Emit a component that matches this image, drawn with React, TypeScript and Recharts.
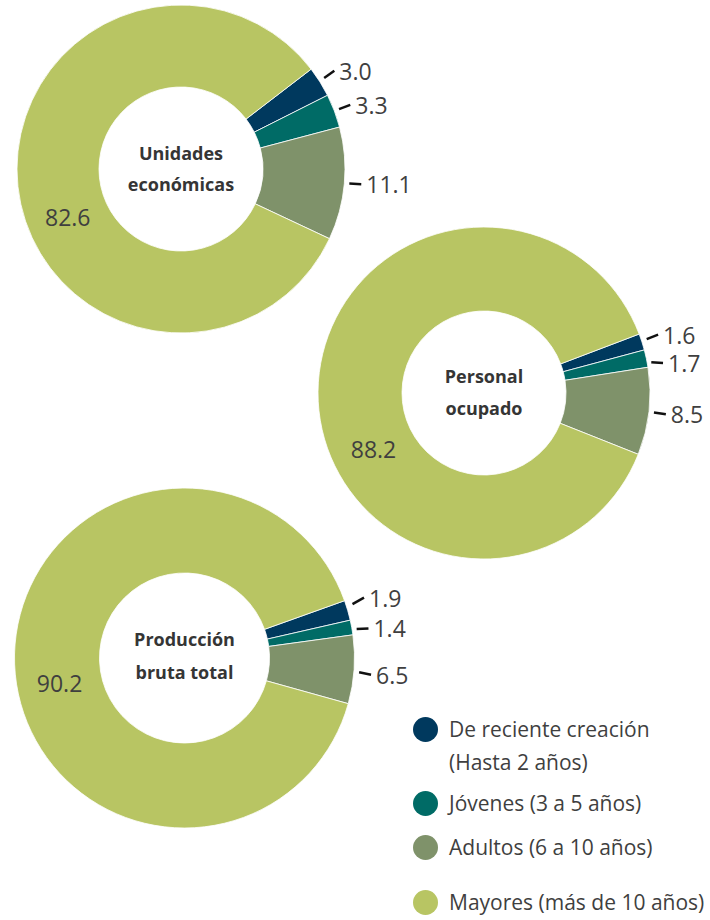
import React from 'react'
import { PieChart, Pie, Cell } from 'recharts'

const categories = ['De reciente creación', 'Jóvenes', 'Adultos', 'Mayores']
const legendLabels = [
  ['De reciente creación', '(Hasta 2 años)'],
  ['Jóvenes (3 a 5 años)'],
  ['Adultos (6 a 10 años)'],
  ['Mayores (más de 10 años)'],
]
const colors = ['#00395e', '#006b66', '#7f926a', '#b8c563']

const unidades = [3.0, 3.3, 11.1, 82.6]
const personal = [1.6, 1.7, 8.5, 88.2]
const produccion = [1.9, 1.4, 6.5, 90.2]

const titles = [
  ['Unidades', 'económicas'],
  ['Personal', 'ocupado'],
  ['Producción', 'bruta total'],
]

const FONT = '"Open Sans", "Noto Sans", sans-serif'
const TEXT = '#3f3f3f'
const RAD = Math.PI / 180

// layout of each donut (page coordinates); nudge = vertical shift of the outside labels
const donuts = [
  { values: unidades, title: titles[0], cx: 181, cy: 169, inner: 82, outer: 164, start: 37.5, bigAngle: 203, nudge: [-2, 0, -1], titleDy: [-16, 15] },
  { values: personal, title: titles[1], cx: 484, cy: 393, inner: 82, outer: 166, start: 20.8, bigAngle: 207, nudge: [-2, 8, 1], titleDy: [-17, 15] },
  { values: produccion, title: titles[2], cx: 184.5, cy: 658, inner: 85, outer: 170, start: 19.7, bigAngle: 191.5, nudge: [-8, 4, 4], titleDy: [-19, 14] },
]

const legendRows = [
  { top: 713, lines: legendLabels[0], color: colors[0] },
  { top: 787, lines: legendLabels[1], color: colors[1] },
  { top: 831, lines: legendLabels[2], color: colors[2] },
  { top: 886, lines: legendLabels[3], color: colors[3] },
]

type Donut = (typeof donuts)[number]

const makeLabel = (d: Donut) => (props: any) => {
  const { cx, cy, midAngle, innerRadius, outerRadius, index, value } = props
  if (index === 3) {
    const r = (innerRadius + outerRadius) / 2
    const a = d.bigAngle * RAD
    return (
      <text
        x={cx + r * Math.cos(a)}
        y={cy - r * Math.sin(a)}
        textAnchor="middle"
        dominantBaseline="central"
        fontFamily={FONT}
        fontSize={23}
        fill={TEXT}
      >
        {value.toFixed(1)}
      </text>
    )
  }
  const a = midAngle * RAD
  const dy = d.nudge[index]
  const x1 = cx + (outerRadius + 5) * Math.cos(a)
  const y1 = cy - (outerRadius + 5) * Math.sin(a) + dy * 0.6
  const x2 = cx + (outerRadius + 17) * Math.cos(a)
  const y2 = cy - (outerRadius + 17) * Math.sin(a) + dy
  return (
    <g>
      <line x1={x1} y1={y1} x2={x2} y2={y2} stroke="#111" strokeWidth={2.5} />
      <text
        x={x2 + 5}
        y={y2}
        textAnchor="start"
        dominantBaseline="central"
        fontFamily={FONT}
        fontSize={23}
        fill={TEXT}
      >
        {value.toFixed(1)}
      </text>
      {index === 0 && (
        <text textAnchor="middle" fontFamily={FONT} fontSize={18} fontWeight={700} fill="#353535">
          <tspan x={cx} y={cy + d.titleDy[0]} dominantBaseline="central">
            {d.title[0]}
          </tspan>
          <tspan x={cx} y={cy + d.titleDy[1]} dominantBaseline="central">
            {d.title[1]}
          </tspan>
        </text>
      )}
    </g>
  )
}

export default function App() {
  return (
    <div style={{ position: 'absolute', left: 0, top: 0, width: 710, height: 920, background: '#fff' }}>
      <PieChart width={710} height={920} margin={{ top: 0, right: 0, bottom: 0, left: 0 }}>
        {donuts.map((d, i) => (
          <Pie
            key={i}
            data={d.values.map((v, j) => ({ name: categories[j], value: v }))}
            dataKey="value"
            nameKey="name"
            cx={d.cx}
            cy={d.cy}
            innerRadius={d.inner}
            outerRadius={d.outer}
            startAngle={d.start}
            endAngle={d.start - 360}
            stroke="#fff"
            strokeWidth={0.8}
            label={makeLabel(d)}
            labelLine={false}
            isAnimationActive={false}
          >
            {d.values.map((_, j) => (
              <Cell key={j} fill={colors[j]} />
            ))}
          </Pie>
        ))}
      </PieChart>
      {legendRows.map((row, i) => (
        <div key={i} style={{ position: 'absolute', left: 413, top: row.top, fontFamily: FONT, fontSize: 21, color: TEXT, lineHeight: '33px' }}>
          <span
            style={{
              position: 'absolute',
              left: 0,
              top: 4,
              width: 25,
              height: 25,
              borderRadius: '50%',
              background: row.color,
            }}
          />
          <div style={{ marginLeft: 36, whiteSpace: 'nowrap' }}>
            {row.lines.map((l, k) => (
              <div key={k}>{l}</div>
            ))}
          </div>
        </div>
      ))}
    </div>
  )
}
